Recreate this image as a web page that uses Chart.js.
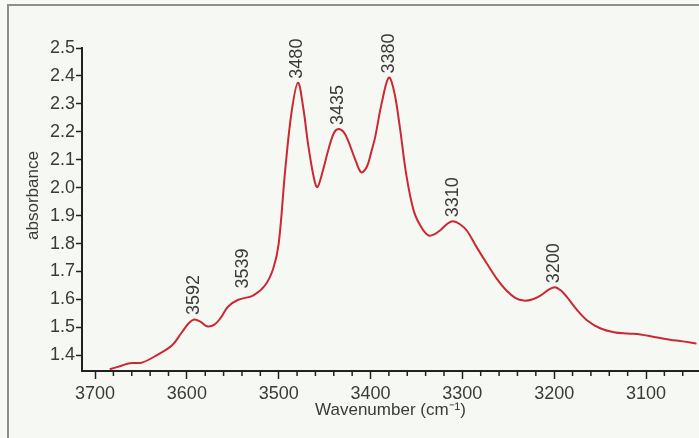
<!DOCTYPE html>
<html>
<head>
<meta charset="utf-8">
<script src="https://cdn.jsdelivr.net/npm/chart.js@4.4.0/dist/chart.umd.min.js"></script>
<style>
  html, body { margin: 0; padding: 0; background: #f7f9f4; }
  #wrap { position: relative; width: 699px; height: 438px; overflow: hidden; }
  #frame {
    position: absolute; left: 7px; top: 4px; width: 720px; height: 460px;
    border-left: 2px solid #8e8e8e; border-top: 2px solid #8e8e8e;
    background: #f6f9f3;
  }
  canvas { position: absolute; left: 0; top: 0; }
</style>
</head>
<body>
<div id="wrap">
  <div id="frame"></div>
  <canvas id="chart" width="699" height="438"></canvas>
</div>
<script>
// spectrum (wavenumber, absorbance)
const wavenumbers = [
  3684, 3672, 3662, 3649, 3633, 3616, 3606, 3598, 3592, 3585,
  3578, 3570, 3563, 3555, 3544, 3528, 3515, 3506, 3500, 3493,
  3486, 3479, 3473, 3468, 3462, 3458, 3452, 3446, 3440, 3435,
  3429, 3424, 3416, 3410, 3404, 3399, 3395, 3388, 3380, 3374,
  3368, 3361, 3353, 3345, 3337, 3330, 3324, 3316, 3310, 3303,
  3295, 3285, 3273, 3262, 3252, 3242, 3233, 3224, 3215, 3206,
  3199, 3192, 3186, 3175, 3164, 3150, 3135, 3120, 3106, 3090,
  3074, 3060, 3045
];
const absorbance = [
  1.350, 1.362, 1.372, 1.374, 1.400, 1.436, 1.480, 1.515, 1.528, 1.520,
  1.504, 1.510, 1.535, 1.575, 1.599, 1.614, 1.650, 1.710, 1.800, 2.060,
  2.270, 2.376, 2.280, 2.156, 2.040, 2.002, 2.060, 2.135, 2.195, 2.210,
  2.198, 2.165, 2.095, 2.055, 2.075, 2.130, 2.180, 2.300, 2.394, 2.340,
  2.215, 2.045, 1.918, 1.860, 1.829, 1.834, 1.848, 1.872, 1.880, 1.870,
  1.846, 1.790, 1.727, 1.672, 1.632, 1.605, 1.596, 1.600, 1.614, 1.635,
  1.644, 1.630, 1.608, 1.562, 1.525, 1.497, 1.483, 1.478, 1.475, 1.465,
  1.456, 1.450, 1.442
];

// peak annotations
const peakLabels = ['3592', '3539', '3480', '3435', '3380', '3310', '3200'];
const peakWavenumbers = [3592, 3539, 3480, 3435, 3380, 3310, 3200];
const peakAbsorbance = [1.530, 1.625, 2.376, 2.210, 2.394, 1.880, 1.644];

const yTicks = [1.4, 1.5, 1.6, 1.7, 1.8, 1.9, 2.0, 2.1, 2.2, 2.3, 2.4, 2.5];
const xTicks = [3700, 3600, 3500, 3400, 3300, 3200, 3100];

const textColor = '#3a3a3a';
const axisColor = '#222';
const fontFamily = '"Liberation Sans", Arial, sans-serif';

const peakLabelPlugin = {
  id: 'peakLabels',
  afterDatasetsDraw(chart) {
    const { ctx, scales: { x, y } } = chart;
    ctx.save();
    ctx.fillStyle = textColor;
    ctx.font = '18px ' + fontFamily;
    ctx.textAlign = 'left';
    ctx.textBaseline = 'middle';
    peakLabels.forEach((label, i) => {
      const px = x.getPixelForValue(peakWavenumbers[i]);
      const py = y.getPixelForValue(peakAbsorbance[i]) - 4;
      ctx.save();
      ctx.translate(px, py);
      ctx.rotate(-Math.PI / 2);
      ctx.fillText(label, 0, 0);
      ctx.restore();
    });
    ctx.restore();
  }
};

// small ticks every 20 cm-1 between the labelled ones
const minorTickPlugin = {
  id: 'minorTicks',
  afterDraw(chart) {
    const { ctx, scales: { x } } = chart;
    ctx.save();
    ctx.strokeStyle = axisColor;
    ctx.lineWidth = 1.5;
    ctx.beginPath();
    for (let v = 3700; v >= 3040; v -= 20) {
      if (v % 100 === 0 || v > x.max || v < x.min) continue;
      const px = x.getPixelForValue(v);
      ctx.moveTo(px, x.top);
      ctx.lineTo(px, x.top + 5);
    }
    ctx.stroke();
    ctx.restore();
  }
};

// y title sits a bit above the middle of the axis in the original
const yTitlePlugin = {
  id: 'yTitle',
  afterDraw(chart) {
    const { ctx, chartArea } = chart;
    ctx.save();
    ctx.fillStyle = textColor;
    ctx.font = '17px ' + fontFamily;
    ctx.textAlign = 'center';
    ctx.textBaseline = 'middle';
    ctx.translate(33, (chartArea.top + chartArea.bottom) / 2 - 14);
    ctx.rotate(-Math.PI / 2);
    ctx.fillText('absorbance', 0, 0);
    ctx.restore();
  }
};

const ctx = document.getElementById('chart').getContext('2d');
new Chart(ctx, {
  type: 'line',
  data: {
    datasets: [{
      data: wavenumbers.map((w, i) => ({ x: w, y: absorbance[i] })),
      borderColor: 'rgb(202, 40, 50)',
      borderWidth: 2,
      pointRadius: 0,
      fill: false,
      tension: 0.35
    }]
  },
  options: {
    responsive: false,
    animation: false,
    layout: { padding: { left: 23, top: 48, right: 0, bottom: 17 } },
    plugins: { legend: { display: false }, tooltip: { enabled: false } },
    scales: {
      x: {
        type: 'linear',
        reverse: true,
        min: 3042.3,
        max: 3714.2,
        afterBuildTicks: (scale) => { scale.ticks = xTicks.map(v => ({ value: v })); },
        afterFit: (scale) => { scale.height = 50; },
        grid: { drawOnChartArea: false, drawTicks: true, tickLength: 8, tickColor: axisColor, tickWidth: 1.5 },
        border: { display: true, color: axisColor, width: 2 },
        ticks: { color: textColor, font: { size: 18, family: fontFamily }, padding: 4, maxRotation: 0, callback: (v) => String(v) },
        title: { display: true, text: 'Wavenumber (cm\u207B\u00B9)', color: textColor, font: { size: 17, family: fontFamily }, padding: { top: 0, bottom: 0 } }
      },
      y: {
        type: 'linear',
        min: 1.344,
        max: 2.5,
        afterBuildTicks: (scale) => { scale.ticks = yTicks.map(v => ({ value: v })); },
        afterFit: (scale) => { scale.width = 59; },
        grid: { drawOnChartArea: false, drawTicks: true, tickLength: 6, tickColor: axisColor, tickWidth: 1.5 },
        border: { display: true, color: axisColor, width: 2 },
        ticks: { color: textColor, font: { size: 18, family: fontFamily }, padding: 1, callback: (v) => Number(v).toFixed(1) },
        title: { display: false }
      }
    }
  },
  plugins: [peakLabelPlugin, minorTickPlugin, yTitlePlugin]
});
</script>
</body>
</html>
